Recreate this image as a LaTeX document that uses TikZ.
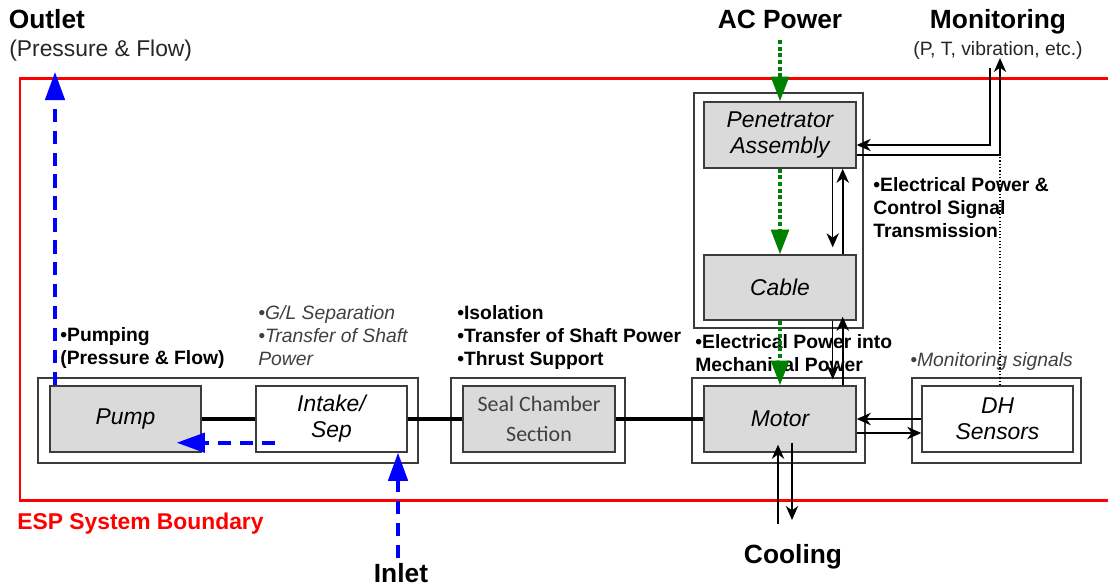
\documentclass[tikz,border=0pt]{standalone}
\usepackage{fontspec}
\setmainfont{Liberation Sans}
\newfontfamily\calibrifont{Carlito}
\usepackage{xcolor}
\usetikzlibrary{arrows.meta}

\definecolor{boxgray}{RGB}{218,218,218}
\definecolor{edgegray}{RGB}{60,60,60}
\definecolor{txtgray}{RGB}{64,64,64}
\definecolor{espred}{RGB}{255,0,0}
\definecolor{flowblue}{RGB}{0,0,255}
\definecolor{powergreen}{RGB}{0,128,0}

\newlength{\pxu}
\setlength{\pxu}{0.02cm}

\begin{document}
\begin{tikzpicture}[x=0.02cm, y=-0.02cm,
    frame/.style={draw=edgegray, line width=0.8pt, fill=white, minimum height=85\pxu},
    unit/.style={draw=edgegray, line width=0.8pt, fill=white, minimum width=151\pxu, minimum height=66\pxu,
        inner sep=0pt, align=center, font=\fontsize{13pt}{14.8pt}\selectfont\itshape},
    grayunit/.style={unit, fill=boxgray},
    shaft/.style={line width=2.3pt},
    flow/.style={flowblue, line width=2.1pt, dash pattern=on 7.5pt off 5pt, -{Triangle[length=16pt, width=11pt]}},
    power/.style={powergreen, line width=2.1pt, dash pattern=on 2.3pt off 1.5pt, -{Triangle[length=14pt, width=10pt]}},
    sig/.style={line width=0.7pt, -{Stealth[length=8pt, width=7pt, inset=2.5pt]}},
    sigthick/.style={sig, line width=1.3pt},
    monline/.style={line width=0.7pt, dash pattern=on 0.7pt off 1.2pt},
    title/.style={font=\fontsize{15pt}{18pt}\selectfont\bfseries, inner sep=0pt},
    note/.style={font=\fontsize{11pt}{13pt}\selectfont\bfseries, align=left, anchor=north west, inner sep=0pt},
    inote/.style={note, font=\fontsize{11pt}{13pt}\selectfont\itshape, text=txtgray}
  ]
\useasboundingbox (0,0) rectangle (1108,586);

        % System boundary
        \draw[espred, line width=1.7pt] (1108,78) -- (20,78) -- (20,500) -- (1108,500);

        % Define outer frames
        \node[frame, minimum width=380\pxu] (pumpfr) at (228,420.5) {};
        \node[frame, minimum width=174\pxu] (sealfr) at (538,420.5) {};
        \node[frame, minimum width=173\pxu] (motorfr) at (778.5,420.5) {};
        \node[frame, minimum width=169\pxu] (dhfr) at (996.5,420.5) {};
        \node[frame, minimum width=169\pxu, minimum height=235\pxu] (pcfr) at (778.5,210.5) {};

        % Define the units
        \node[grayunit] (pump) at (125.5,419) {Pump};
        \node[unit] (intake) at (331.5,419) {Intake/\\Sep};
        \node[grayunit, minimum width=152\pxu, text=txtgray,
              font=\calibrifont\fontsize{12.5pt}{17pt}\selectfont] (seal) at (539,419) {Seal Chamber\\Section};
        \node[grayunit, minimum width=152\pxu] (motor) at (780,419) {Motor};
        \node[unit] (dh) at (997.5,419) {DH\\Sensors};
        \node[grayunit, minimum width=152\pxu] (pen) at (780,135) {Penetrator\\Assembly};
        \node[grayunit, minimum width=152\pxu, minimum height=65\pxu] (cable) at (780,287.5) {Cable};

        % Shaft
        \draw[shaft] (pump) -- (intake);
        \draw[shaft] (intake) -- (seal);
        \draw[shaft] (seal) -- (motor);

        % Outside labels
        \node[title, anchor=base west] (outlet) at (8.5,28) {Outlet};
        \node[anchor=base west, inner sep=0pt, text=black!85, font=\fontsize{13pt}{15pt}\selectfont] (outletsub) at (9,56) {(Pressure \& Flow)};
        \node[title, anchor=base] (acpower) at (780,28) {AC Power};
        \node[title, anchor=base] (monitor) at (998,28) {Monitoring};
        \node[anchor=base, inner sep=0pt, text=black!85, font=\fontsize{11pt}{13pt}\selectfont] (monitorsub) at (998,55) {(P, T, vibration, etc.)};
        \node[title, anchor=base] (cooling) at (793,563) {Cooling};
        \node[title, anchor=base] (inlet) at (401,582) {Inlet};
        \node[title, anchor=base west, text=espred, font=\fontsize{13pt}{15pt}\selectfont\bfseries] (espbound) at (17,529) {ESP System Boundary};

        % Function notes
        \node[note] (pumpnote) at (60,327) {\textbullet Pumping\\(Pressure \& Flow)};
        \node[inote] (intakenote) at (258,305) {\textbullet G/L Separation\\\textbullet Transfer of Shaft\\Power};
        \node[note] (sealnote) at (457,305) {\textbullet Isolation\\\textbullet Transfer of Shaft Power\\\textbullet Thrust Support};
        \node[note] (motornote) at (695,334) {\textbullet Electrical Power into\\Mechanical Power};
        \node[note] (cablenote) at (873,177) {\textbullet Electrical Power \&\\Control Signal\\Transmission};
        \node[inote] (dhnote) at (910,352) {\textbullet Monitoring signals};

        % Define free ends
        \coordinate (outtip) at (55,72);      % Outlet arrow tip
        \coordinate (inbase) at (398,558);    % Inlet arrow start
        \coordinate (acbase) at (780,40);     % AC power start
        \coordinate (monin) at (990,68);      % Monitoring in
        \coordinate (montip) at (1000,58);    % Monitoring out
        \coordinate (coolin) at (778,524);    % Cooling in
        \coordinate (coolout) at (792,520);   % Cooling out
        \coordinate (penout) at ([shift={(0,20)}]pen.east);

        % Draw blue flow arrows
        \draw[flow] (outtip |- pump.north) -- (outtip);
        \draw[flow] ([shift={(20,-10)}]intake.south west) -- ([shift={(-25,-10)}]pump.south east);
        \draw[flow] (inbase) -- (inbase |- intake.south);

        % Draw green power arrows
        \draw[power] (acbase) -- (acbase |- pen.north);
        \draw[power] (pen.south) -- (cable.north);
        \draw[power] (cable.south) -- (motor.north);

        % Draw signal arrows
        \draw[sig] (monin) |- ([shift={(0,10)}]pen.east);
        \draw[sig, line width=0.9pt] (penout) -| (montip);
        \draw[monline] (montip |- dh.north) -- (penout -| montip);
        \draw[sig] ([shift={(-24,0)}]pen.south east) -- ([shift={(-24,-7)}]cable.north east);
        \draw[sigthick] ([shift={(-14,0)}]cable.north east) -- ([shift={(-14,0)}]pen.south east);
        \draw[sig] ([shift={(-24,0)}]cable.south east) -- ([shift={(-24,-6)}]motor.north east);
        \draw[sigthick] ([shift={(-14,0)}]motor.north east) -- ([shift={(-14,-4)}]cable.south east);
        \draw[sigthick] (dh.west) -- (motor.east);
        \draw[sigthick] ([shift={(0,14)}]motor.east) -- ([shift={(0,14)}]dh.west);
        \draw[sigthick] (coolin) -- ([shift={(-2,-8)}]motor.south);
        \draw[sig] ([shift={(12,-10)}]motor.south) -- (coolout);
\end{tikzpicture}
\end{document}
